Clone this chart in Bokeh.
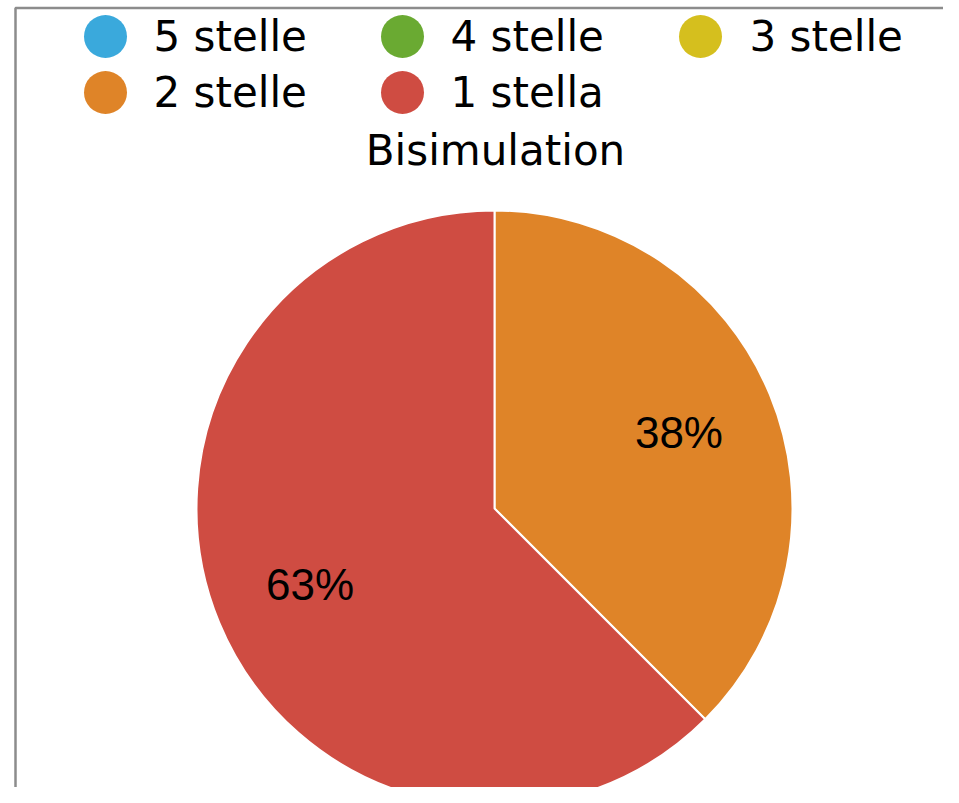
import math
from bokeh.plotting import figure
from bokeh.models import Range1d, BoxAnnotation, ColumnDataSource
from bokeh.embed import file_html
from bokeh.resources import INLINE
from bokeh.core.properties import value

# ---- data ----
categories = ["5 stelle", "4 stelle", "3 stelle", "2 stelle", "1 stella"]
counts = [0, 0, 0, 3, 5]
colors = ["#3aa9dc", "#6aaa32", "#d5bf1e", "#df8428", "#cf4c42"]
chart_title = "Bisimulation"

# ---- layout (pixel-like data space) ----
W, H = 943, 787
CX, CY, R = 494, 279, 298
LABEL_FONT = "DejaVu Sans"
PCT_FONT = "Liberation Sans Narrow, Liberation Sans, sans-serif"

p = figure(width=W, height=H, x_range=Range1d(0, W), y_range=Range1d(0, H),
           output_backend="svg", toolbar_location=None, min_border=0,
           x_axis_type=None, y_axis_type=None)
p.grid.visible = False
p.outline_line_color = None
p.background_fill_color = "white"
p.border_fill_color = "white"

# frame border (top + left visible)
p.add_layout(BoxAnnotation(left=15, right=W + 60, bottom=-60, top=779.5,
                           fill_alpha=0, line_color="#8c8c8c", line_alpha=1.0,
                           line_width=2.5))

# ---- pie ----
total = sum(counts)
starts, ends, cols, lx, ly, ltxt = [], [], [], [], [], []
ang = math.pi / 2
for cat, c, col in zip(categories, counts, colors):
    frac = c / total
    a0 = ang
    a1 = ang - frac * 2 * math.pi
    ang = a1
    if c == 0:
        continue
    starts.append(a0)
    ends.append(a1)
    cols.append(col)
    mid = (a0 + a1) / 2
    lx.append(CX + 0.67 * R * math.cos(mid))
    ly.append(CY + 0.67 * R * math.sin(mid))
    ltxt.append(f"{math.floor(frac * 100 + 0.5)}%")

src = ColumnDataSource(dict(start=starts, end=ends, color=cols))
p.wedge(x=CX, y=CY, radius=R, start_angle="start", end_angle="end",
        direction="clock", fill_color="color", line_color="white",
        line_width=2, source=src)

p.text(x=lx, y=ly, text=ltxt, text_align="center", text_baseline="middle",
       text_font=value(PCT_FONT), text_font_size="44px", text_color="black")

# ---- legend (manual, 3 columns) ----
col_circle_x = [105, 402, 700]
col_text_x = [153, 450, 749]
row_y = [751, 695]
gx, gy, tx = [], [], []
for i in range(len(categories)):
    r, c = divmod(i, 3)
    gx.append(col_circle_x[c])
    tx.append(col_text_x[c])
    gy.append(row_y[r])
p.scatter(x=gx, y=gy, size=43, marker="circle", fill_color=colors, line_color=None)
p.text(x=tx, y=gy, text=categories, text_align="left", text_baseline="middle",
       text_font=value(LABEL_FONT), text_font_size="42px", text_color="black")

# ---- title ----
p.text(x=[495], y=[637], text=[chart_title], text_align="center",
       text_baseline="middle", text_font=value(LABEL_FONT),
       text_font_size="42px", text_color="black")

open("out.html", "w").write(file_html(p, INLINE))
